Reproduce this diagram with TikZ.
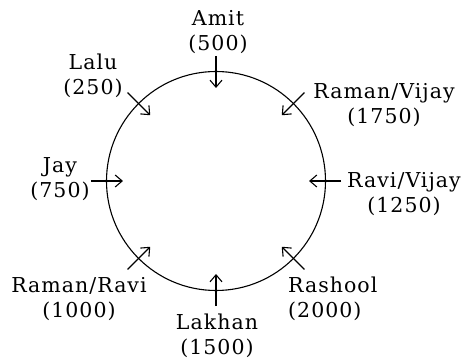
\documentclass[tikz,border=0pt]{standalone}
\usepackage{fontspec}
\setmainfont{DejaVu Serif}[LetterSpace=5]
\usetikzlibrary{arrows.meta}
\begin{document}
\begin{tikzpicture}[x=1pt,y=1pt,
  lbl/.style={align=center,inner sep=0pt,font=\fontsize{20.5}{25}\selectfont},
  arr/.style={line width=1.1pt,-{Straight Barb[length=7pt,width=12pt,line width=1.1pt]}}]
\useasboundingbox (-216,-182) rectangle (246,181);
\coordinate (c) at (0,0);
\draw[line width=1.1pt] (c) circle[radius=109.5pt];
\foreach \n/\a in {amit/90,lalu/135,rv/45,jay/180,rvv/0,rr/225,lak/270,ras/315}{
  \coordinate (\n o) at (\a:125pt);
  \coordinate (\n i) at (\a:93pt);
}
\node[lbl] (amit) at (2,149) {Amit\\(500)};
\node[lbl] (lalu) at (-123,105) {Lalu\\(250)};
\node[lbl] (rv) at (168,76) {Raman/Vijay\\(1750)};
\node[lbl] (jay) at (-156,2) {Jay\\(750)};
\node[lbl] (rvv) at (188,-13) {Ravi/Vijay\\(1250)};
\node[lbl] (rr) at (-137,-118) {Raman/Ravi\\(1000)};
\node[lbl] (lak) at (1,-155) {Lakhan\\(1500)};
\node[lbl,align=left,anchor=west] (ras) at (72,-118) {Rashool\\(2000)};
\foreach \n in {amit,lalu,rv,jay,rvv,rr,lak,ras}{
  \draw[arr] (\n o) -- (\n i);
}
\end{tikzpicture}
\end{document}
